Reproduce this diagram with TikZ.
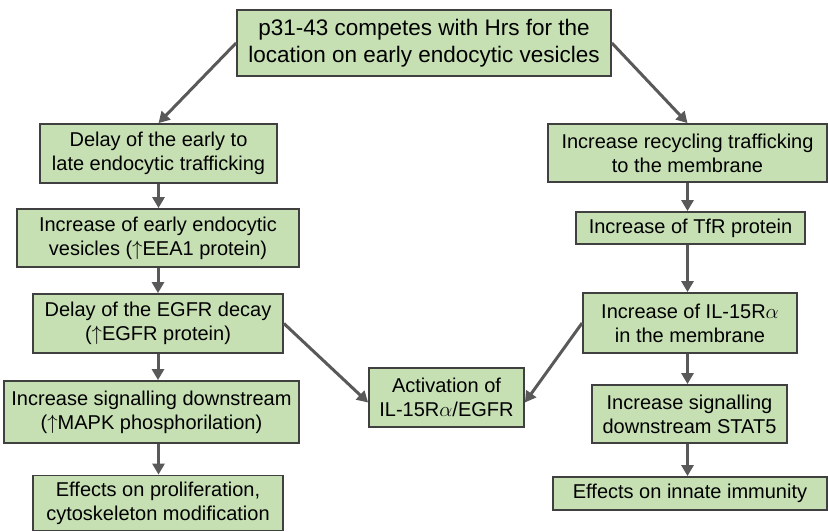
\documentclass[tikz,border=0pt]{standalone}
\usepackage{fontspec}
\setmainfont{Liberation Sans}
\usepackage{amsmath}
\usetikzlibrary{arrows.meta}
\usetikzlibrary{positioning}
\definecolor{boxfill}{HTML}{C6E0B4}
\definecolor{boxline}{HTML}{404040}
\definecolor{flowgray}{HTML}{595959}

\begin{document}
\begin{tikzpicture}[x=1pt, y=-1pt]
      \tikzstyle{stage}=[draw=boxline, fill=boxfill, line width=1.8pt, rectangle, align=center, inner sep=2pt, font=\fontsize{20}{24}\selectfont]
      \tikzstyle{flow}=[draw=flowgray, line width=3pt, -{Triangle[length=11pt, width=12pt]}]

      \useasboundingbox (0,0) rectangle (828,531);

      \node[stage, minimum width=374, minimum height=66, font=\fontsize{22.5}{27}\selectfont] (competes) at (424, 43) {p31-43 competes with Hrs for the\\location on early endocytic vesicles};

      % left branch
      \node[stage, minimum width=237, minimum height=59] (delay) at (158.5, 153.5) {Delay of the early to\\late endocytic trafficking};
      \node[stage, minimum width=282, minimum height=58] (vesicles) at (158, 238) {Increase of early endocytic\\vesicles ($\uparrow$EEA1 protein)};
      \node[stage, minimum width=250, minimum height=59] (egfr) at (158, 323.5) {Delay of the EGFR decay\\($\uparrow$EGFR protein)};
      \node[stage, minimum width=295, minimum height=62] (mapk) at (151.5, 412) {Increase signalling downstream\\($\uparrow$MAPK phosphorilation)};
      \node[stage, minimum width=250, minimum height=55] (prolif) at (158, 503) {Effects on proliferation,\\cytoskeleton modification};

      % right branch
      \node[stage, minimum width=279, minimum height=58] (recycling) at (687.5, 153) {Increase recycling trafficking\\to the membrane};
      \node[stage, minimum width=229, minimum height=32] (tfr) at (690.5, 228) {Increase of TfR protein};
      \node[stage, minimum width=214, minimum height=60] (ilr) at (690, 323) {Increase of IL-15R$\alpha$\\in the membrane};
      \node[stage, minimum width=195, minimum height=58] (stat) at (689.5, 414) {Increase signalling\\downstream STAT5};
      \node[stage, minimum width=274, minimum height=33] (innate) at (690, 493.5) {Effects on innate immunity};

      % joint node
      \node[stage, minimum width=155, minimum height=59] (activation) at (446.5, 397.5) {Activation of\\IL-15R$\alpha$/EGFR};

      \draw[flow] (competes.west) -- (delay.north);
      \draw[flow] (competes.east) -- (recycling.north);

      \draw[flow] (delay.south) -- (delay.south |- vesicles.north);
      \draw[flow] (vesicles.south) -- (vesicles.south |- egfr.north);
      \draw[flow] (egfr.south) -- (egfr.south |- mapk.north);
      \draw[flow] ([xshift=7pt]mapk.south) -- ([xshift=7pt]mapk.south |- prolif.north);

      \draw[flow] (recycling.south) -- (recycling.south |- tfr.north);
      \draw[flow] (recycling.south |- tfr.south) -- (recycling.south |- ilr.north);
      \draw[flow] (recycling.south |- ilr.south) -- (recycling.south |- stat.north);
      \draw[flow] (recycling.south |- stat.south) -- (recycling.south |- innate.north);

      \draw[flow] (egfr.east) -- ([yshift=-5]activation.west);
      \draw[flow] (ilr.east -| ilr.west) -- ([yshift=-5]activation.east);
\end{tikzpicture}
\end{document}
